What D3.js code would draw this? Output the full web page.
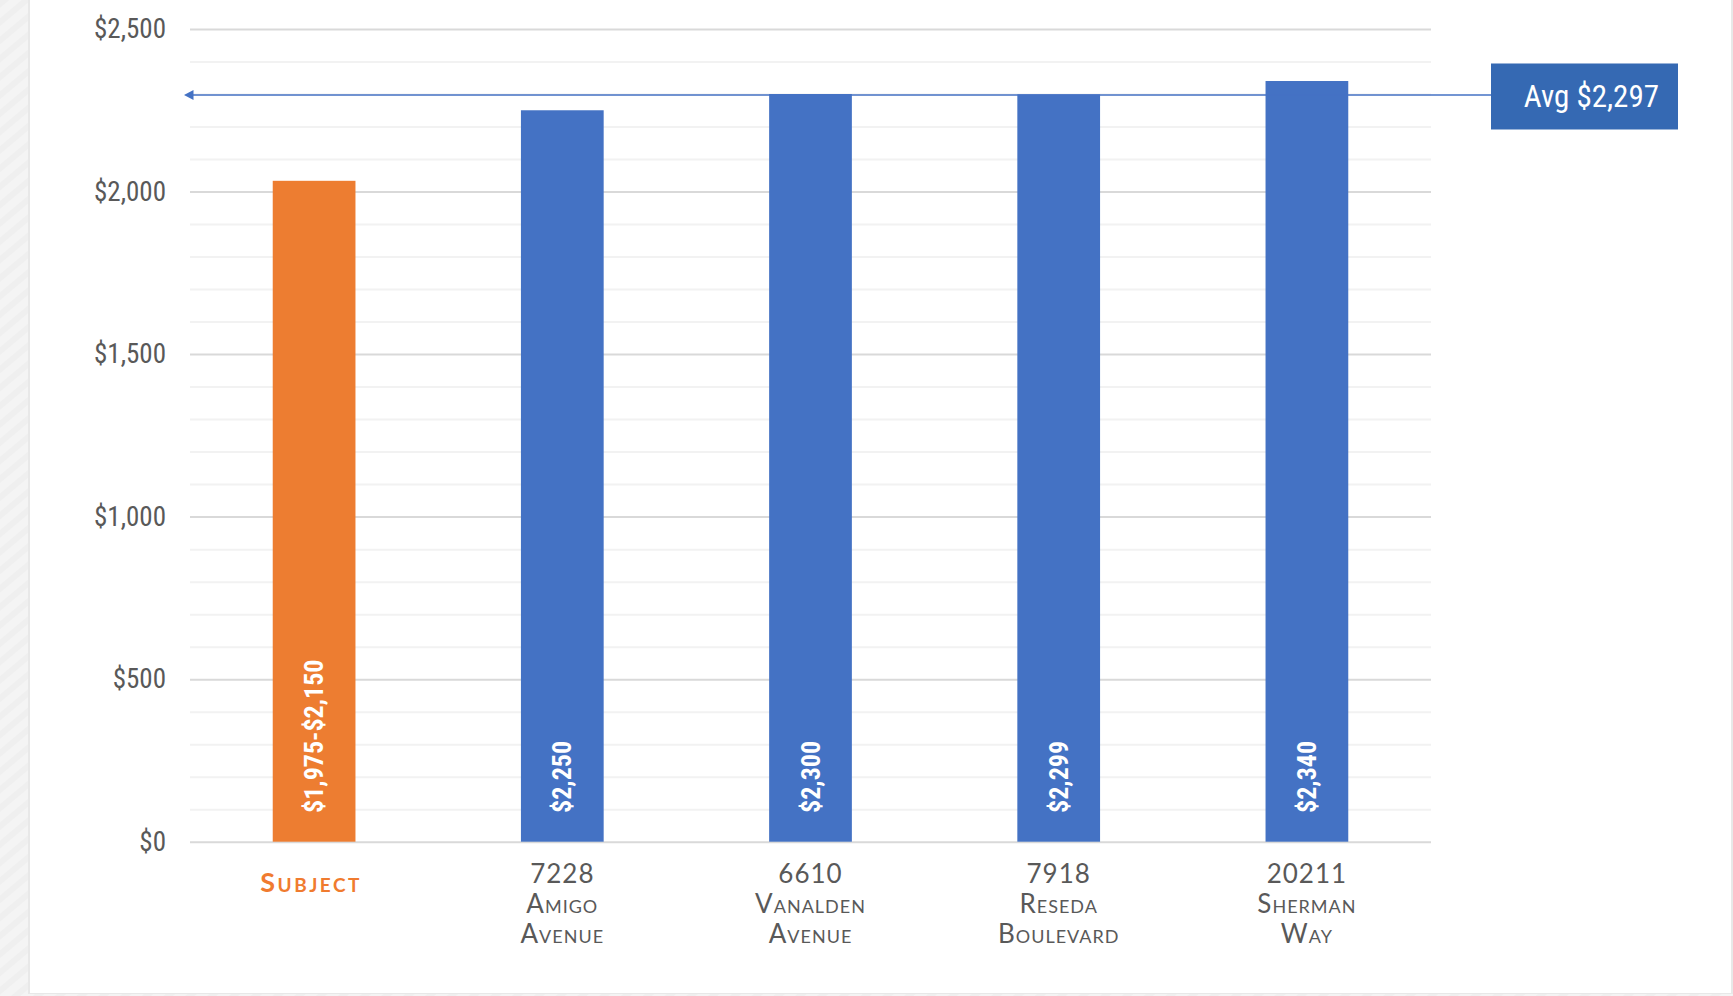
<!DOCTYPE html>
<html>
<head>
<meta charset="utf-8">
<script src="https://cdn.jsdelivr.net/npm/d3@7"></script>
<style>
    body { margin: 0; background: #f1f1f1; overflow: hidden; }
    .y.axis text { font-family: "Roboto Condensed", "Liberation Sans Narrow", sans-serif; font-size: 27px; fill: #595959; }
    .value-label { font-family: "Roboto Condensed", "Liberation Sans Narrow", sans-serif; font-size: 26px; font-weight: bold; fill: #fff; }
    .cat-label { font-family: Lato, "Open Sans", sans-serif; font-size: 26px; fill: #595959; font-variant: small-caps; letter-spacing: 1px; }
    .avg-text { font-family: "Roboto Condensed", "Liberation Sans Narrow", sans-serif; font-size: 31px; fill: #fff; }
</style>
</head>
<body>
<div id="chart"></div>
<script>
// data
const categoryLabels = [
    ["Subject"],
    ["7228", "Amigo", "Avenue"],
    ["6610", "Vanalden", "Avenue"],
    ["7918", "Reseda", "Boulevard"],
    ["20211", "Sherman", "Way"]
];
const rentValues = [2033, 2250, 2300, 2299, 2340];
const valueLabels = ["$1,975-$2,150", "$2,250", "$2,300", "$2,299", "$2,340"];
const avgRent = 2297;
const avgLabel = "Avg $2,297";
const yTicks = [0, 500, 1000, 1500, 2000, 2500];
const yMinorTicks = d3.range(100, 2500, 100).filter(d => d % 500 !== 0);

const W = 1733, H = 996;
const margin = {left: 190, right: 302, top: 29, bottom: 154.3};
const width = W - margin.left - margin.right;   // 1241
const height = H - margin.top - margin.bottom;  // 812.7

const svg = d3.select("#chart").append("svg")
    .attr("width", W)
    .attr("height", H);

// page background: striped strip on the left, white card
const defs = svg.append("defs");
const pat = defs.append("pattern")
    .attr("id", "stripes")
    .attr("width", 14).attr("height", 14)
    .attr("patternUnits", "userSpaceOnUse")
    .attr("patternTransform", "rotate(-40)");
pat.append("rect").attr("width", 14).attr("height", 14).attr("fill", "#f4f4f4");
pat.append("rect").attr("width", 14).attr("height", 6).attr("fill", "#efefef");
svg.append("rect").attr("width", W).attr("height", H).attr("fill", "url(#stripes)");
svg.append("rect").attr("x", 28).attr("y", -5).attr("width", 1705).attr("height", 999).attr("fill", "#e8e8e8");
svg.append("rect").attr("x", 30).attr("y", -5).attr("width", 1701).attr("height", 998).attr("fill", "#fff");

const g = svg.append("g")
    .attr("transform", "translate(" + margin.left + "," + margin.top + ")");

const x = d3.scaleBand()
    .domain(d3.range(categoryLabels.length))
    .range([0, width])
    .paddingInner(2 / 3)
    .paddingOuter(1 / 3);
const y = d3.scaleLinear().domain([0, 2500]).range([height, 0]);

// minor gridlines
g.append("g")
    .attr("class", "minor")
    .call(d3.axisLeft(y).tickValues(yMinorTicks).tickSize(-width).tickFormat(""))
    .call(a => a.select(".domain").remove())
    .call(a => a.selectAll("line").attr("stroke", "#f2f2f2").attr("stroke-width", 2));

// major gridlines + labels
g.append("g")
    .attr("class", "y axis")
    .call(d3.axisLeft(y).tickValues(yTicks).tickSize(-width).tickPadding(24)
        .tickFormat(d => "$" + d3.format(",")(d)))
    .call(a => a.select(".domain").remove())
    .call(a => a.selectAll("line").attr("stroke", "#d9d9d9").attr("stroke-width", 2));

// bars
g.selectAll(".bar")
    .data(rentValues)
    .enter().append("rect")
    .attr("class", "bar")
    .attr("x", (d, i) => x(i))
    .attr("width", x.bandwidth())
    .attr("y", d => y(d))
    .attr("height", d => y(0) - y(d))
    .attr("fill", (d, i) => i === 0 ? "#ED7D31" : "#4472C4");

// rotated value labels
g.selectAll(".value-label")
    .data(valueLabels)
    .enter().append("text")
    .attr("class", "value-label")
    .attr("transform", (d, i) => "translate(" + (x(i) + x.bandwidth() / 2) + "," + (y(0) - 28.7) + ") rotate(-90)")
    .attr("text-anchor", "start")
    .attr("dominant-baseline", "central")
    .text(d => d);

// category labels
const cats = g.selectAll(".cat-label")
    .data(categoryLabels)
    .enter().append("text")
    .attr("class", "cat-label")
    .attr("text-anchor", "middle")
    .attr("transform", (d, i) => "translate(" + (x(i) + x.bandwidth() / 2) + "," + (height + 41) + ")");
cats.each(function (lines, i) {
    const t = d3.select(this);
    if (i === 0) {
        t.style("fill", "#F07B2F").style("font-weight", "bold")
            .style("font-size", "27px").style("letter-spacing", "2.5px")
            .append("tspan").attr("x", -3).attr("y", 9).text(lines[0]);
        return;
    }
    lines.forEach((l, k) => {
        t.append("tspan").attr("x", 0).attr("y", k * 30).text(l);
    });
});

// average line with arrow and callout box
const avgY = y(avgRent);
const boxX = 1491 - margin.left, boxW = 187, boxH = 66;
g.append("line")
    .attr("x1", -2).attr("x2", boxX)
    .attr("y1", avgY).attr("y2", avgY)
    .attr("stroke", "#4472C4")
    .attr("stroke-width", 1.5);
g.append("path")
    .attr("d", "M" + (-6) + "," + avgY + "l9.5,-5l0,10z")
    .attr("fill", "#4472C4");
g.append("rect")
    .attr("x", boxX).attr("y", avgY - boxH / 2 + 1.5)
    .attr("width", boxW).attr("height", boxH)
    .attr("fill", "#3569B3");
g.append("text")
    .attr("class", "avg-text")
    .attr("x", boxX + boxW - 19)
    .attr("y", avgY + 12.5)
    .attr("text-anchor", "end")
    .text(avgLabel);
</script>
</body>
</html>
